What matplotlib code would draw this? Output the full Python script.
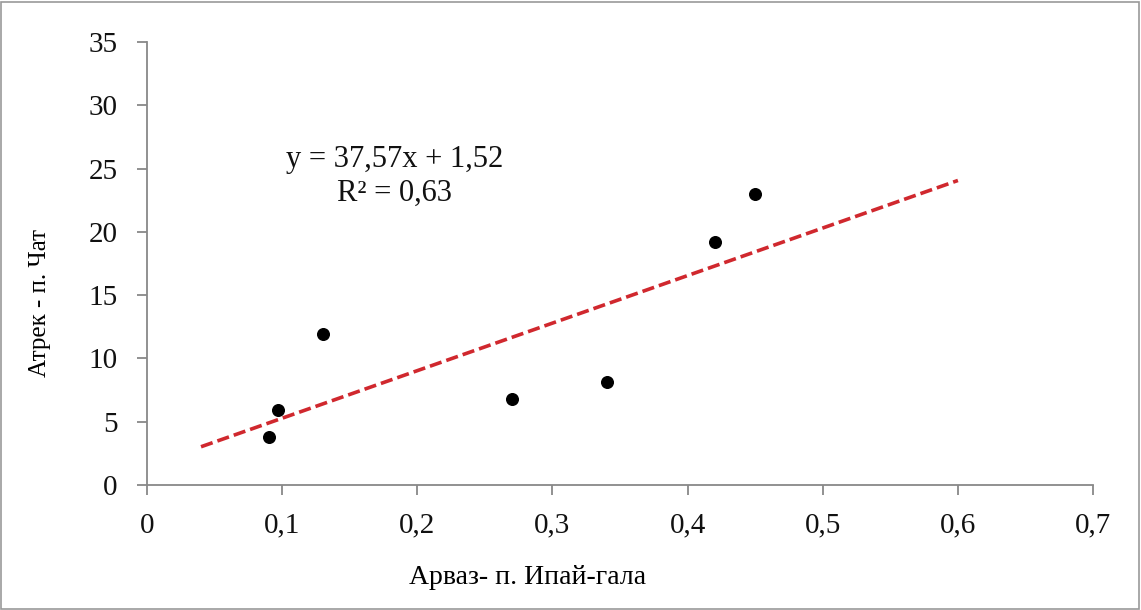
import matplotlib
matplotlib.use('Agg')
import matplotlib.pyplot as plt
import numpy as np
from matplotlib.ticker import FuncFormatter, MultipleLocator
from matplotlib.patches import Rectangle

x_vals = [0.09, 0.097, 0.13, 0.27, 0.34, 0.42, 0.45]
y_vals = [3.8, 5.9, 11.9, 6.8, 8.1, 19.2, 23.0]
slope = 37.57
intercept = 1.52
trend_x = [0.04, 0.6]

plt.rcParams['font.family'] = ['Liberation Serif', 'DejaVu Serif']

fig = plt.figure(figsize=(11.41, 6.10), dpi=100)
ax = fig.add_axes([0.1288, 0.2049, 0.8292, 0.7262])

ax.scatter(x_vals, y_vals, s=70, color='black', zorder=3)
tx = np.array(trend_x)
ax.plot(tx, slope * tx + intercept, color='#d0282e', linestyle=(0, (3.4, 1.4)), linewidth=2.6)

ax.set_xlim(0, 0.7)
ax.set_ylim(0, 35)
ax.xaxis.set_major_locator(MultipleLocator(0.1))
ax.yaxis.set_major_locator(MultipleLocator(5))
ax.xaxis.set_major_formatter(FuncFormatter(lambda v, p: ('%g' % round(v, 2)).replace('.', ',')))
ax.yaxis.set_major_formatter(FuncFormatter(lambda v, p: '%d' % v))

for s in ['top', 'right']:
    ax.spines[s].set_visible(False)
for s in ['left', 'bottom']:
    ax.spines[s].set_color('#888888')
    ax.spines[s].set_linewidth(1.3)
ax.tick_params(axis='both', colors='#888888', labelcolor='#111111', labelsize=21, length=7, width=1.3, direction='out')
ax.tick_params(axis='y', pad=14)
ax.tick_params(axis='x', pad=13)

ax.set_xlabel('Арваз- п. Ипай-гала', fontsize=20)
ax.set_ylabel('Атрек - п. Чат', fontsize=18)
ax.xaxis.set_label_coords(0.402, -0.208)
ax.yaxis.set_label_coords(-0.113, 0.411)
ax.xaxis.label.set_va('center')
ax.yaxis.label.set_va('center')

ax.text(0.183, 24.4, 'y = 37,57x + 1,52\nR² = 0,63', fontsize=22, ha='center', va='center',
        linespacing=1.2, color='#111111')

fig.patches.append(Rectangle((0.001, 0.002), 0.997, 0.995, transform=fig.transFigure,
                             fill=False, edgecolor='#999999', linewidth=1.2))

fig.savefig('out.png', dpi=100)
